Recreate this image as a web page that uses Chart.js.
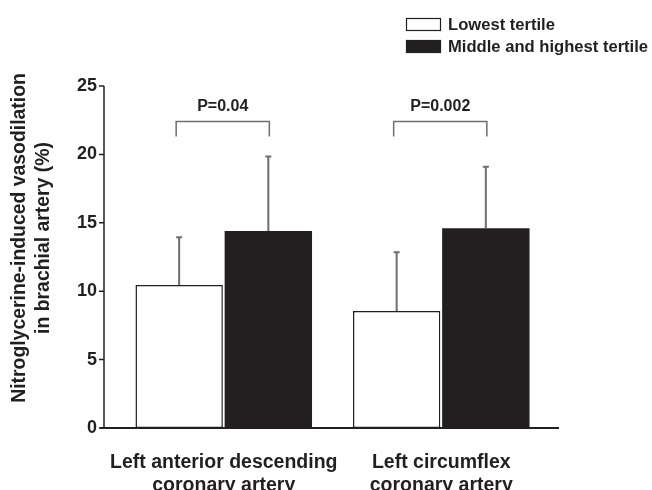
<!DOCTYPE html>
<html>
<head>
<meta charset="utf-8">
<script src="https://cdn.jsdelivr.net/npm/chart.js@4.4.1/dist/chart.umd.min.js"></script>
<style>
  html, body { margin: 0; padding: 0; background: #fff; }
</style>
</head>
<body>
<canvas id="myChart" width="652" height="490"></canvas>
<script>
// Dados
const categorias = [['Left anterior descending', 'coronary artery'], ['Left circumflex', 'coronary artery']];
const grupos = ['Lowest tertile', 'Middle and highest tertile'];
const lowest = [10.45, 8.55];
const lowestSd = [3.5, 4.3];
const highest = [14.4, 14.6];
const highestSd = [5.45, 4.5];
const pValores = ['P=0.04', 'P=0.002'];
const yTicks = [0, 5, 10, 15, 20, 25];
const yTitulo = ['Nitroglycerine-induced vasodilation', 'in brachial artery (%)'];

const fonte = '"Liberation Sans", Arial, Helvetica, sans-serif';
const escuro = '#231f20';
const cinza = '#6e6e6e';

// Plugin que desenha eixos, barras de erro, colchetes do P, legenda e título do eixo y
const extras = {
    id: 'extras',
    afterDatasetsDraw(chart) {
        const ctx = chart.ctx;
        const y = chart.scales.y;
        const area = chart.chartArea;
        ctx.save();

        // barras de erro (só para cima)
        chart.data.datasets.forEach((ds, i) => {
            const meta = chart.getDatasetMeta(i);
            meta.data.forEach((bar, j) => {
                const topo = y.getPixelForValue(ds.data[j] + ds.sd[j]);
                ctx.strokeStyle = cinza;
                ctx.lineWidth = 2;
                ctx.beginPath();
                ctx.moveTo(bar.x, bar.y);
                ctx.lineTo(bar.x, topo);
                ctx.moveTo(bar.x - 3, topo);
                ctx.lineTo(bar.x + 3, topo);
                ctx.stroke();
            });
        });

        // eixos
        const eixoX = area.left - 11;
        const zero = y.getPixelForValue(0);
        ctx.strokeStyle = escuro;
        ctx.lineWidth = 1.5;
        ctx.beginPath();
        ctx.moveTo(eixoX, y.getPixelForValue(yTicks[yTicks.length - 1]));
        ctx.lineTo(eixoX, zero);
        yTicks.forEach(t => {
            const py = y.getPixelForValue(t);
            ctx.moveTo(eixoX - 5, py);
            ctx.lineTo(eixoX, py);
        });
        ctx.stroke();
        ctx.lineWidth = 2;
        ctx.beginPath();
        ctx.moveTo(eixoX - 4, zero);
        ctx.lineTo(area.right + 9, zero);
        ctx.stroke();

        // colchetes com valor de P
        const m0 = chart.getDatasetMeta(0);
        const m1 = chart.getDatasetMeta(1);
        pValores.forEach((txt, j) => {
            const x1 = m0.data[j].x - 3;
            const x2 = m1.data[j].x + 1;
            const yTop = y.getPixelForValue(22.4);
            const yBot = y.getPixelForValue(21.3);
            ctx.strokeStyle = cinza;
            ctx.lineWidth = 1.5;
            ctx.beginPath();
            ctx.moveTo(x1, yBot);
            ctx.lineTo(x1, yTop);
            ctx.lineTo(x2, yTop);
            ctx.lineTo(x2, yBot);
            ctx.stroke();
            ctx.fillStyle = escuro;
            ctx.font = 'bold 16px ' + fonte;
            ctx.textAlign = 'center';
            ctx.textBaseline = 'alphabetic';
            ctx.fillText(txt, (x1 + x2) / 2, y.getPixelForValue(23.15));
        });

        // legenda
        ctx.font = 'bold 16.6px ' + fonte;
        ctx.textAlign = 'left';
        ctx.textBaseline = 'middle';
        chart.data.datasets.forEach((ds, i) => {
            const ly = 18 + i * 22;
            ctx.fillStyle = ds.backgroundColor;
            ctx.fillRect(406, ly, 35, 13);
            ctx.strokeStyle = escuro;
            ctx.lineWidth = 1.2;
            ctx.strokeRect(406.5, ly + 0.5, 34, 12);
            ctx.fillStyle = escuro;
            ctx.fillText(ds.label, 448, ly + 7);
        });

        // título do eixo y
        ctx.save();
        ctx.translate(0, 238);
        ctx.rotate(-Math.PI / 2);
        ctx.font = 'bold 19.4px ' + fonte;
        ctx.textAlign = 'center';
        ctx.textBaseline = 'middle';
        ctx.fillStyle = escuro;
        ctx.fillText(yTitulo[0], 0, 20);
        ctx.fillText(yTitulo[1], 0, 44);
        ctx.restore();

        ctx.restore();
    }
};

const grafico = document.getElementById('myChart');
new Chart(grafico, {
    type: 'bar',
    data: {
        labels: categorias,
        datasets: [{
            label: grupos[0],
            data: lowest,
            sd: lowestSd,
            backgroundColor: '#ffffff',
            borderColor: escuro,
            borderWidth: 1.5,
            borderSkipped: false
        }, {
            label: grupos[1],
            data: highest,
            sd: highestSd,
            backgroundColor: escuro,
            borderWidth: 0
        }]
    },
    options: {
        responsive: false,
        animation: false,
        categoryPercentage: 0.82,
        barPercentage: 0.98,
        layout: { padding: { top: 86, right: 102, left: 0, bottom: 0 } },
        plugins: {
            legend: { display: false },
            tooltip: { enabled: false }
        },
        scales: {
            y: {
                min: 0,
                max: 25,
                ticks: {
                    stepSize: 5,
                    padding: 18,
                    color: escuro,
                    font: { family: fonte, size: 18, weight: 'bold' }
                },
                grid: { display: false, drawTicks: false },
                border: { display: false },
                afterFit: s => { s.width = 115; }
            },
            x: {
                ticks: {
                    padding: 23,
                    color: escuro,
                    maxRotation: 0,
                    autoSkip: false,
                    font: { family: fonte, size: 19.5, weight: 'bold', lineHeight: 1.2 }
                },
                grid: { display: false, drawTicks: false },
                border: { display: false },
                afterFit: s => { s.height = 62; }
            }
        }
    },
    plugins: [extras]
});
</script>
</body>
</html>
